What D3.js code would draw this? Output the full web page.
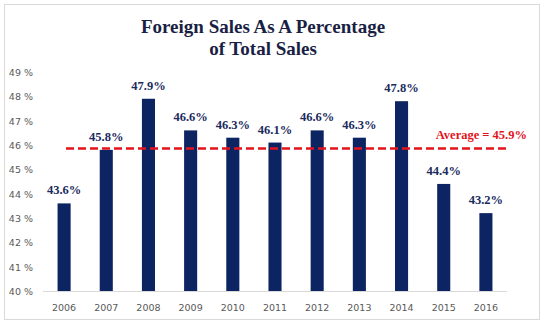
<!DOCTYPE html>
<html><head><meta charset="utf-8">
<script src="https://cdn.jsdelivr.net/npm/d3@7"></script>
<style>body{margin:0;background:#fff}svg{display:block}</style>
</head><body>
<script>
const years = ["2006","2007","2008","2009","2010","2011","2012","2013","2014","2015","2016"];
const values = [43.6,45.8,47.9,46.6,46.3,46.1,46.6,46.3,47.8,44.4,43.2];
const average = 45.9;
const yTicks = [40,41,42,43,44,45,46,47,48,49];
const titleLines = ["Foreign Sales As A Percentage","of Total Sales"];

const W=545,H=325;
const svg=d3.select("body").append("svg").attr("width",W).attr("height",H);
svg.append("rect").attr("x",4.5).attr("y",4.5).attr("width",535).attr("height",315)
  .attr("fill","#fff").attr("stroke","#d9d9d9");

const navy="#0c2461", red="#e3131b";
const x=d3.scaleBand().domain(years).range([43,507]).paddingInner(0.69).paddingOuter(0.345);
const y=d3.scaleLinear().domain([40,49]).range([291,72]);

svg.append("g").selectAll("text").data(titleLines).join("text")
  .attr("x",263).attr("y",(d,i)=>33+i*22).attr("text-anchor","middle")
  .attr("font-family","Liberation Serif, serif").attr("font-weight","bold")
  .attr("font-size",19).attr("fill","#1a1f45").text(d=>d);

// y axis labels
svg.append("g").selectAll("text").data(yTicks).join("text")
  .attr("x",33).attr("y",d=>y(d)+4).attr("text-anchor","end")
  .attr("font-family","DejaVu Sans, sans-serif").attr("font-size",9.5).attr("fill","#595959")
  .text(d=>d+" %");

// baseline
svg.append("line").attr("x1",43).attr("x2",507).attr("y1",291.5).attr("y2",291.5)
  .attr("stroke","#d9d9d9");

// bars
svg.append("g").selectAll("rect").data(values).join("rect")
  .attr("x",(d,i)=>x(years[i])).attr("width",x.bandwidth())
  .attr("y",d=>y(d)).attr("height",d=>y(40)-y(d)).attr("fill",navy);

// value labels
svg.append("g").selectAll("text").data(values).join("text")
  .attr("x",(d,i)=>x(years[i])+x.bandwidth()/2).attr("y",d=>y(d)-9)
  .attr("text-anchor","middle").attr("font-family","Liberation Serif, serif")
  .attr("font-weight","bold").attr("font-size",12.5).attr("fill","#1a2a5e")
  .text(d=>d.toFixed(1)+"%");

// x labels
svg.append("g").selectAll("text").data(years).join("text")
  .attr("x",d=>x(d)+x.bandwidth()/2).attr("y",311).attr("text-anchor","middle")
  .attr("font-family","DejaVu Sans, sans-serif").attr("font-size",9.5).attr("fill","#595959")
  .text(d=>d);

// average line
svg.append("line").attr("x1",66).attr("x2",508).attr("y1",y(average)+1).attr("y2",y(average)+1)
  .attr("stroke",red).attr("stroke-width",2.5).attr("stroke-dasharray","8,4");
svg.append("text").attr("x",527).attr("y",y(average)-8).attr("text-anchor","end")
  .attr("font-family","Liberation Serif, serif").attr("font-weight","bold")
  .attr("font-size",12.5).attr("fill",red).text("Average = "+average+"%");
</script>
</body></html>
